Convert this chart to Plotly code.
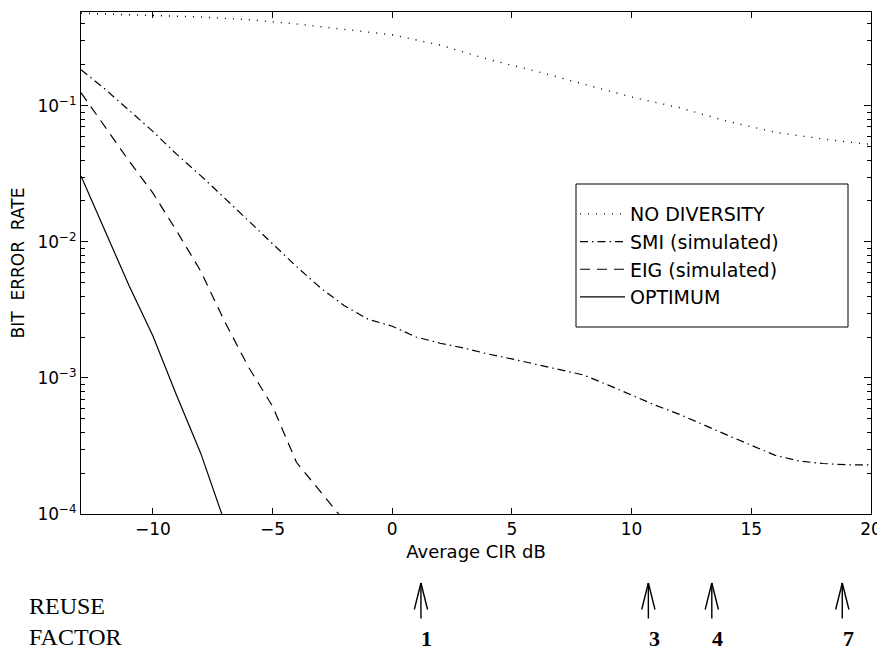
import plotly.graph_objects as go

# ---------------- data ----------------
no_div_x = [-13, -10, -8, -6, -4, -2, 0, 2, 4, 6, 8, 10, 12, 14, 16, 18, 20]
no_div_y = [0.48, 0.465, 0.45, 0.43, 0.40, 0.365, 0.333, 0.28, 0.22, 0.18, 0.145,
            0.116, 0.097, 0.077, 0.064, 0.057, 0.052]

smi_x = [-13, -12, -11, -10, -9, -8, -7, -6, -5, -4, -3, -2, -1, 0, 1, 2, 3, 4, 5, 6,
         7, 8, 9, 10, 11, 12, 13, 14, 15, 16, 17, 18, 19, 20]
smi_y = [0.184, 0.133, 0.093, 0.065, 0.044, 0.0307, 0.021, 0.0143, 0.0097, 0.0066,
         0.0046, 0.0034, 0.0027, 0.0024, 0.0020, 0.0018, 0.00166, 0.0015, 0.00138,
         0.00126, 0.00115, 0.00105, 0.00089, 0.00075, 0.00063, 0.00054, 0.00045,
         0.00038, 0.00032, 0.00027, 0.000245, 0.000235, 0.00023, 0.00023]

eig_x = [-13, -12, -11, -10, -9, -8, -7, -6, -5, -4, -3, -2]
eig_y = [0.125, 0.0695, 0.0395, 0.0229, 0.012, 0.0061, 0.0026, 0.0012, 0.00062,
         0.00024, 0.000145, 0.000089]

opt_x = [-13, -12, -11, -10, -9, -8, -7]
opt_y = [0.0305, 0.012, 0.0048, 0.00204, 0.00074, 0.00028, 0.000087]

series_names = ["NO DIVERSITY", "SMI (simulated)", "EIG (simulated)", "OPTIMUM"]

x_ticks = [-10, -5, 0, 5, 10, 15, 20]
x_tick_labels = ["\u221210", "\u22125", "0", "5", "10", "15", "20"]
y_ticks = [1e-4, 1e-3, 1e-2, 1e-1]
y_tick_labels = ["10<sup>\u22124</sup>", "10<sup>\u22123</sup>",
                 "10<sup>\u22122</sup>", "10<sup>\u22121</sup>"]
y_minor_ticks = [m * d for d in y_ticks for m in range(2, 10)]

reuse_cir = [1.2, 10.7, 13.35, 18.8]
reuse_labels = ["1", "3", "4", "7"]

# ---------------- layout constants ----------------
OFF = 8  # default page body margin
W, H = 885 - OFF, 652 - OFF
ML, MR, MT, MB = 81 - OFF, 14, 12 - OFF, 138
PW, PH = W - ML - MR, H - MT - MB
SANS = "DejaVu Sans, Liberation Sans, sans-serif"
SERIF = "Liberation Serif, DejaVu Serif, serif"


def py2paper(py):
    # py: pixel row in the 885x652 window
    return (H - MB - (py - OFF)) / PH


def px2paper(px):
    return (px - OFF - ML) / PW


fig = go.Figure()
styles = [
    dict(dash="1px,7px", width=1.4),
    dict(dash="8px,4px,1.5px,4px", width=1.2),
    dict(dash="10px,7px", width=1.2),
    dict(dash="solid", width=1.2),
]
for i, (xs, ys) in enumerate([(no_div_x, no_div_y), (smi_x, smi_y),
                              (eig_x, eig_y), (opt_x, opt_y)]):
    fig.add_trace(go.Scatter(
        x=xs, y=ys, mode="lines", name=series_names[i],
        legendgroup=f"g{i}",
        line=dict(color="black", **styles[i]),
    ))

axis_common = dict(showline=True, linecolor="black", linewidth=1, mirror="ticks",
                   ticks="inside", tickcolor="black", showgrid=False, zeroline=False,
                   automargin=False,
                   tickfont=dict(family=SANS, size=17, color="black"))

fig.update_xaxes(range=[-13, 20], tickvals=x_ticks, ticktext=x_tick_labels,
                 ticklen=6, **axis_common,
                 title=dict(text="Average CIR dB", standoff=6,
                            font=dict(family=SANS, size=18, color="black")))
fig.update_yaxes(type="log", range=[-4, -0.31], tickvals=y_ticks,
                 ticktext=y_tick_labels, ticklen=7, **axis_common,
                 minor=dict(ticks="inside", ticklen=4, tickcolor="black",
                            tickvals=y_minor_ticks, showgrid=False),
                 title=dict(text="BIT  ERROR  RATE", standoff=12,
                            font=dict(family=SANS, size=17, color="black")))

# legend box
fig.add_shape(type="rect", xref="paper", yref="paper",
              x0=px2paper(576), x1=px2paper(848), y0=py2paper(327), y1=py2paper(184),
              line=dict(color="black", width=1), fillcolor="white", layer="below")

annotations = []
# reuse factor arrows
tip_py, tail_py = 583, 620
for cx, lab in zip(reuse_cir, reuse_labels):
    y_tip = py2paper(tip_py)
    for ax, ay in [(0, tail_py - tip_py), (-7, 28), (7, 28)]:
        annotations.append(dict(x=cx, y=y_tip, xref="x", yref="paper", text="",
                                showarrow=True, arrowhead=0, arrowwidth=1.4,
                                arrowcolor="black", ax=ax, ay=ay, standoff=0,
                                startstandoff=0))
    annotations.append(dict(x=cx, y=py2paper(638), xref="x", yref="paper",
                            text=f"<b>{lab}</b>", showarrow=False, xshift=6,
                            xanchor="center", yanchor="middle",
                            font=dict(family=SERIF, size=22, color="black")))
annotations.append(dict(x=px2paper(27), y=py2paper(606), xref="paper", yref="paper",
                        text="REUSE", showarrow=False, xanchor="left", yanchor="middle",
                        font=dict(family=SERIF, size=24, color="black")))
annotations.append(dict(x=px2paper(27), y=py2paper(637), xref="paper", yref="paper",
                        text="FACTOR", showarrow=False, xanchor="left", yanchor="middle",
                        font=dict(family=SERIF, size=24, color="black")))

fig.update_layout(
    width=W, height=H, margin=dict(l=ML, r=MR, t=MT, b=MB),
    plot_bgcolor="white", paper_bgcolor="white",
    legend=dict(x=px2paper(575), y=py2paper(195), xanchor="left", yanchor="top",
                bgcolor="rgba(0,0,0,0)", borderwidth=0, tracegroupgap=0,
                itemwidth=45,
                font=dict(family=SANS, size=19, color="black")),
    annotations=annotations,
)

fig.write_html("out.html")
